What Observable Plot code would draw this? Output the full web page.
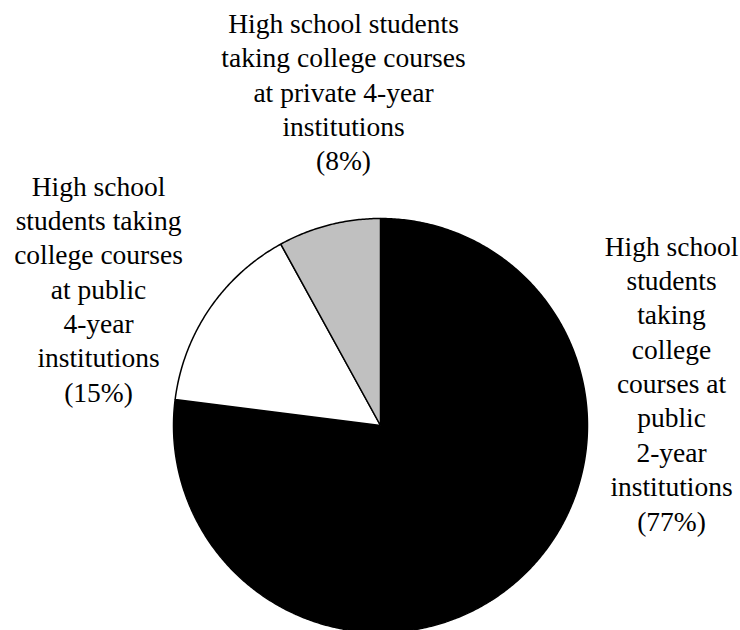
<!DOCTYPE html>
<html>
<head>
<meta charset="utf-8">
<script src="https://cdn.jsdelivr.net/npm/d3@7"></script>
<script src="https://cdn.jsdelivr.net/npm/@observablehq/plot@0.6"></script>
<style>
  html, body { margin: 0; padding: 0; background: white; overflow: hidden; }
  #chart svg, #chart svg text { font-family: "Liberation Serif", "Times New Roman", serif !important; }
</style>
</head>
<body>
<div id="chart"></div>
<script>
// ---- data ----
const categories = [
  "High school students taking college courses at public 2-year institutions",
  "High school students taking college courses at public 4-year institutions",
  "High school students taking college courses at private 4-year institutions"
];
const shares = [77, 15, 8];
const labelText = [
  "High school\nstudents\ntaking\ncollege\ncourses at\npublic\n2-year\ninstitutions",
  "High school\nstudents taking\ncollege courses\nat public\n4-year\ninstitutions",
  "High school students\ntaking college courses\nat private 4-year\ninstitutions"
];
// ---- styles ----
const sliceColors = ["#000000", "#ffffff", "#c0c0c0"];

const rows = categories.map((c, i) => ({
  category: c,
  share: shares[i],
  label: `${labelText[i]}\n(${shares[i]}%)`
}));

// slice outlines computed from the pie layout (angles clockwise from 12 o'clock)
const arcs = d3.pie().sort(null).value(d => d.share)(rows);
const slicePts = [];
for (const a of arcs) {
  slicePts.push({category: a.data.category, x: 0, y: 0});
  const n = Math.max(2, Math.ceil((a.endAngle - a.startAngle) / (Math.PI / 360)));
  for (let i = 0; i <= n; i++) {
    const t = a.startAngle + (a.endAngle - a.startAngle) * i / n;
    slicePts.push({category: a.data.category, x: Math.sin(t), y: Math.cos(t)});
  }
}

const textStyle = {
  text: "label",
  frameAnchor: "top-left",
  textAnchor: "middle",
  lineAnchor: "top",
  fontFamily: "Liberation Serif",
  fontSize: 27.5,
  lineHeight: 1.25,
  fill: "black"
};

const chart = Plot.plot({
  width: 740,
  height: 630,
  margin: 0,
  x: {domain: [-1, 1], range: [173, 587], axis: null},
  y: {domain: [-1, 1], range: [632, 218], axis: null},
  color: {domain: categories, range: sliceColors},
  style: {background: "white", overflow: "hidden"},
  marks: [
    Plot.line(slicePts, {
      x: "x", y: "y", z: "category", fill: "category",
      stroke: "black", strokeWidth: 1.5, curve: "linear-closed", strokeLinejoin: "miter"
    }),
    Plot.text(rows.filter((d, i) => i === 0), {...textStyle, dx: 671, dy: 230.6}),
    Plot.text(rows.filter((d, i) => i === 1), {...textStyle, dx: 98, dy: 170.6}),
    Plot.text(rows.filter((d, i) => i === 2), {...textStyle, dx: 343, dy: 7.9})
  ]
});
document.getElementById("chart").appendChild(chart);
</script>
</body>
</html>
